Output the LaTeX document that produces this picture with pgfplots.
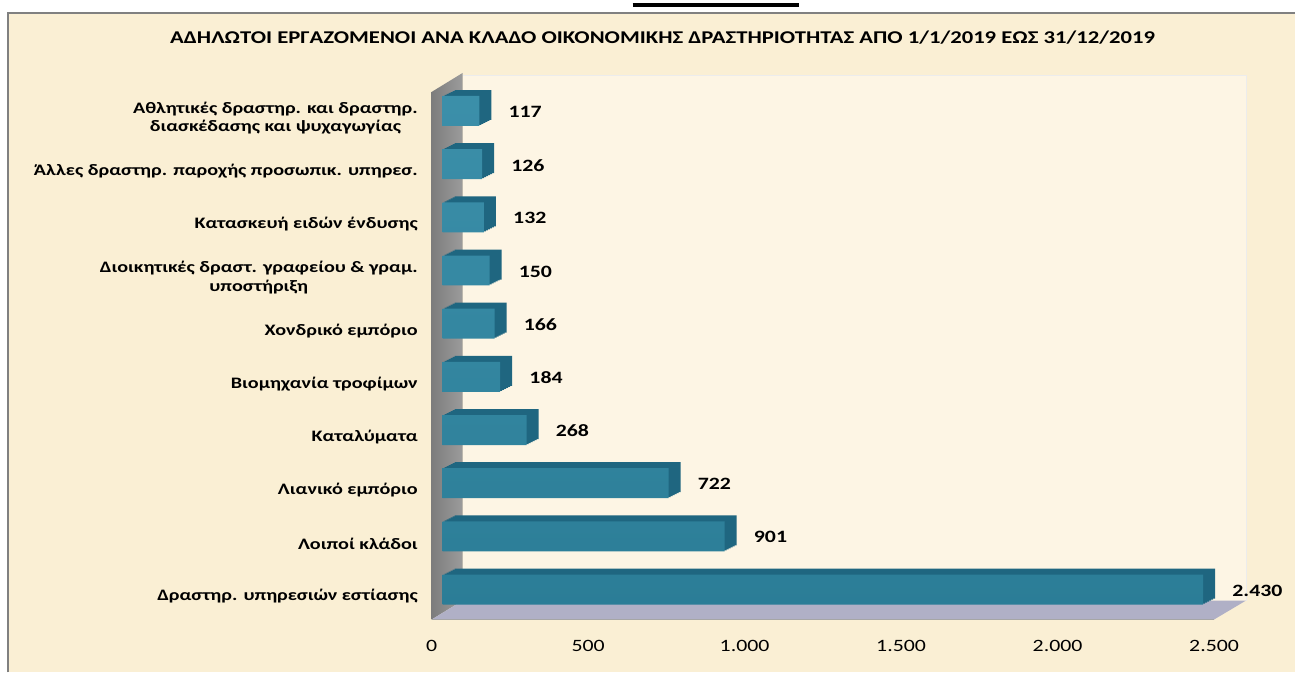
\documentclass[border=0pt]{standalone}
\usepackage{fontspec}
\setmainfont{Carlito}[FakeStretch=1.26]
\usepackage{pgfplots}
\usepackage{pgfplotstable}
\pgfplotsset{compat=1.18}

\definecolor{paper}{HTML}{FAEFD4}
\definecolor{wallback}{HTML}{FDF5E4}
\definecolor{wallgray}{HTML}{9C9C9C}
\definecolor{floorgray}{HTML}{B0B0C6}
\definecolor{barfront}{HTML}{2F88A4}
\definecolor{bardark}{HTML}{1F6680}

% k = position from the bottom, value = declared workers
\pgfplotstableread{
k value
0 2430
1 901
2 722
3 268
4 184
5 166
6 150
7 132
8 126
9 117
}\workers

\begin{document}
\begin{tikzpicture}
% page and frame, in pixels of the reference (y up)
\begin{scope}[x=0.75pt,y=0.75pt]
  \fill[white] (0,0) rectangle (1296,673);
  \fill[paper] (8,0) rectangle (1296,660);
  \draw[gray,line width=1.5] (8,0) -- (8,660) -- (1296,660);
  \draw[black,line width=3] (633,668) -- (800,668);
  \node[font=\bfseries\fontsize{13.5}{15}\selectfont] at (663,635)
    {ΑΔΗΛΩΤΟΙ ΕΡΓΑΖΟΜΕΝΟΙ ΑΝΑ ΚΛΑΔΟ ΟΙΚΟΝΟΜΙΚΗΣ ΔΡΑΣΤΗΡΙΟΤΗΤΑΣ ΑΠΟ 1/1/2019 ΕΩΣ 31/12/2019};
  % 3D box: back wall, left wall, floor
  \fill[wallback] (463,72) rectangle (1247,598);
  \draw[white!85!gray] (463,598) -- (1247,598) -- (1247,72);
  \shade[left color=wallgray!80!black, right color=wallgray] (432,53) -- (432,581) -- (463,600) -- (463,72) -- cycle;
  \fill[floorgray] (432,53) -- (1215,53) -- (1247,72) -- (463,72) -- cycle;
  \draw[gray!70] (432,53) -- (1215,53);
\end{scope}

\begin{axis}[
    at={(324pt,39.75pt)}, anchor=south west,
    scale only axis,
    width=587.25pt, height=396pt,
    xmin=0, xmax=2500,
    ymin=-0.432, ymax=9.49,
    axis line style={draw=none},
    tick style={draw=none},
    xtick={0,500,...,2500},
    ytick={0,...,9},
    yticklabels={
      Δραστηρ. υπηρεσιών εστίασης,
      Λοιποί κλάδοι,
      Λιανικό εμπόριο,
      Καταλύματα,
      Βιομηχανία τροφίμων,
      Χονδρικό εμπόριο,
      {Διοικητικές δραστ. γραφείου \& γραμ.\\υποστήριξη},
      Κατασκευή ειδών ένδυσης,
      Άλλες δραστηρ. παροχής προσωπικ. υπηρεσ.,
      {Αθλητικές δραστηρ. και δραστηρ.\\διασκέδασης και ψυχαγωγίας}},
    yticklabel style={align=center, inner sep=0pt, xshift=-6pt,
      font=\bfseries\fontsize{12}{14}\selectfont},
    xticklabel style={inner sep=0pt, yshift=-15pt,
      font=\fontsize{13}{15}\selectfont},
    /pgf/number format/assume math mode=true,
    /pgf/number format/1000 sep={.},
    scaled x ticks=false,
    clip=false,
    xbar, bar width=22.5pt, bar shift=0pt,
]
% depth of the bars
\addplot[xbar, bar shift=0pt, draw=none, fill=bardark, xshift=9.75pt, yshift=6pt] table[x=value,y=k] {\workers};
\addplot[xbar, bar shift=0pt, draw=none, fill=bardark, xshift=11.25pt, yshift=6.75pt] table[x=value,y=k] {\workers};
\addplot[xbar, bar shift=0pt, draw=none, fill=bardark, xshift=12.75pt, yshift=7.5pt] table[x=value,y=k] {\workers};
\addplot[xbar, bar shift=0pt, draw=none, fill=bardark, xshift=14.25pt, yshift=8.25pt] table[x=value,y=k] {\workers};
\addplot[xbar, bar shift=0pt, draw=none, fill=bardark, xshift=15.75pt, yshift=9pt] table[x=value,y=k] {\workers};
\addplot[xbar, bar shift=0pt, draw=none, fill=bardark, xshift=17.25pt, yshift=9.75pt] table[x=value,y=k] {\workers};
% front faces
\addplot[xbar, bar shift=0pt, draw=none, top color=barfront!94!white, bottom color=barfront!92!black,
  xshift=8.25pt, yshift=5.25pt] table[x=value,y=k] {\workers};
% value labels
\addplot[xbar, bar shift=0pt, draw=none, fill=none,
  nodes near coords, point meta=x,
  every node near coord/.append style={anchor=west, xshift=30pt, yshift=4.5pt,
    inner sep=0pt, font=\bfseries\fontsize{13}{15}\selectfont}]
  table[x=value,y=k] {\workers};
\end{axis}
\end{tikzpicture}
\end{document}
